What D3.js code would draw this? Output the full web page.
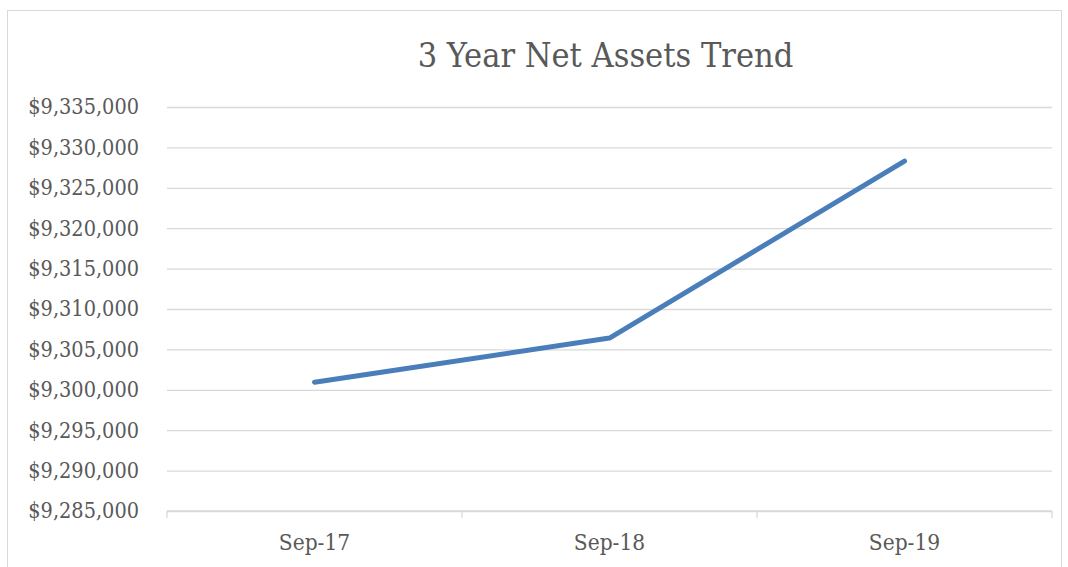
<!DOCTYPE html>
<html>
<head>
<meta charset="utf-8">
<script src="https://cdn.jsdelivr.net/npm/d3@7"></script>
<style>
  body { margin: 0; background: #fff; }
  svg { display: block; }
  text { font-family: "DejaVu Serif Condensed", "DejaVu Serif", serif; fill: #595959; }
</style>
</head>
<body>
<svg width="1068" height="567"></svg>
<script>
// Chart data
var categories = ['Sep-17', 'Sep-18', 'Sep-19'];
var netAssets = [9300940, 9306400, 9328300];
var yTicks = [9285000, 9290000, 9295000, 9300000, 9305000, 9310000, 9315000, 9320000, 9325000, 9330000, 9335000];

var svg = d3.select('svg');

// Layout
var plot = {l: 167, r: 1052, t: 107, b: 511};

// Outer chart border
svg.append('rect')
    .attr('x', 7.5).attr('y', 10.5)
    .attr('width', 1054).attr('height', 570)
    .attr('fill', 'none')
    .attr('stroke', '#d9d9d9')
    .attr('stroke-width', 1);

var xScale = d3.scaleBand().domain(categories).range([plot.l, plot.r]);
var yScale = d3.scaleLinear().domain([9285000, 9335000]).range([plot.b, plot.t]);

var fmt = function(d) { return '$' + d3.format(',')(d); };

// Gridlines + y labels
var yAxis = d3.axisLeft(yScale)
    .tickValues(yTicks)
    .tickSize(-(plot.r - plot.l))
    .tickPadding(28)
    .tickFormat(fmt);

var yG = svg.append('g')
    .attr('transform', 'translate(' + plot.l + ',0)')
    .call(yAxis);
yG.select('.domain').remove();
yG.selectAll('.tick line').attr('stroke', '#d9d9d9').attr('stroke-width', 1.3);
yG.selectAll('.tick text')
    .attr('font-size', 21.5)
    .attr('font-family', null)
    .attr('fill', '#595959');

// x axis with tick marks on band edges
var xG = svg.append('g')
    .attr('transform', 'translate(0,' + plot.b + ')');
xG.append('line')
    .attr('x1', plot.l).attr('x2', plot.r)
    .attr('stroke', '#d9d9d9').attr('stroke-width', 1.3);
var edges = categories.map(function(c) { return xScale(c); }).concat([plot.r]);
xG.selectAll('.edge')
    .data(edges)
    .enter().append('line')
    .attr('class', 'edge')
    .attr('x1', function(d) { return d; })
    .attr('x2', function(d) { return d; })
    .attr('y1', 0).attr('y2', 7)
    .attr('stroke', '#d9d9d9').attr('stroke-width', 1.3);
xG.selectAll('.xlabel')
    .data(categories)
    .enter().append('text')
    .attr('class', 'xlabel')
    .attr('x', function(d) { return xScale(d) + xScale.bandwidth() / 2; })
    .attr('y', 39)
    .attr('text-anchor', 'middle')
    .attr('font-size', 22.5)
    .text(function(d) { return d; });

// Line
var line = d3.line()
    .x(function(d, i) { return xScale(categories[i]) + xScale.bandwidth() / 2; })
    .y(function(d) { return yScale(d); });

svg.append('path')
    .datum(netAssets)
    .attr('d', line)
    .attr('fill', 'none')
    .attr('stroke', '#4a7ebb')
    .attr('stroke-width', 5)
    .attr('stroke-linejoin', 'round')
    .attr('stroke-linecap', 'round');

// Title
svg.append('text')
    .attr('x', 605.5)
    .attr('y', 67)
    .attr('text-anchor', 'middle')
    .attr('font-size', 34)
    .text('3 Year Net Assets Trend');
</script>
</body>
</html>
